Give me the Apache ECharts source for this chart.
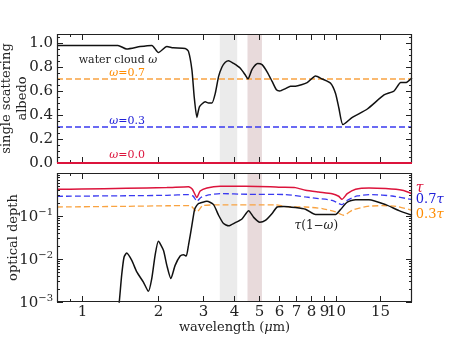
<!DOCTYPE html>
<html lang="en">
<head>
<meta charset="UTF-8">
<title>water cloud albedo and optical depth</title>
<style>html,body{margin:0;padding:0;background:#fff;}</style>
</head>
<body>
<div id="main" style="width:457px;height:343px;"></div>
<script src="https://cdn.jsdelivr.net/npm/echarts@6/dist/echarts.min.js"></script>
<script>
var chart = echarts.init(document.getElementById('main'));

var FONT = 'DejaVu Serif';
var INK = '#222';
var X_MIN = 0.8, X_MAX = 20;

// top panel: single scattering albedo of a water cloud [wavelength um, omega]
var omegaCurve = [[0.8,0.98],[1.39,0.98],[1.505,0.95],[1.70,0.97],[1.89,0.98],[2.006,0.92],[2.166,0.97],
  [2.293,0.96],[2.557,0.955],[2.635,0.93],[2.719,0.775],[2.776,0.55],[2.844,0.38],[2.913,0.47],[3.068,0.51],
  [3.161,0.50],[3.261,0.50],[3.36,0.58],[3.462,0.72],[3.571,0.80],[3.68,0.84],[3.792,0.853],[3.968,0.83],
  [4.217,0.79],[4.413,0.733],[4.522,0.70],[4.69,0.78],[4.934,0.83],[5.135,0.82],[5.375,0.76],[5.626,0.68],
  [5.85,0.61],[6.027,0.60],[6.35,0.62],[6.645,0.64],[6.954,0.64],[7.73,0.67],[8.34,0.725],[8.86,0.70],
  [9.56,0.665],[10.0,0.58],[10.31,0.456],[10.69,0.32],[11.64,0.38],[13.34,0.45],[15.52,0.567],[17.0,0.60],
  [18.06,0.67],[18.9,0.67],[19.78,0.70],[20,0.71]];
// constant albedo reference lines
var omegaRefs = [0.7, 0.3, 0.0];
var omegaRefColors = ['#f9a341', '#3a3af0', '#dc143c'];
var omegaRefText = ['#ff8c00', '#2020d8', '#dc143c'];

// bottom panel: optical depths
var tauCurve = [[0.8,0.418],[1.0,0.425],[1.5,0.44],[2.166,0.457],[2.635,0.48],[2.73,0.42],[2.844,0.268],[2.93,0.38],
  [3.115,0.45],[3.52,0.49],[4.41,0.49],[5.53,0.48],[6.06,0.466],[6.954,0.457],[7.614,0.396],[8.58,0.36],
  [9.69,0.33],[10.29,0.288],[10.6,0.245],[11.12,0.33],[11.99,0.418],[13.54,0.45],[15.76,0.434],[18.3,0.396],[20,0.33]];
var tau07Curve = [[0.8,0.287],[1.5,0.296],[2.166,0.303],[2.635,0.315],[2.75,0.29],[2.844,0.22],[2.95,0.27],[3.115,0.303],
  [3.52,0.332],[4.5,0.32],[6.35,0.315],[7.614,0.277],[8.58,0.254],[9.69,0.232],[10.6,0.184],[11.12,0.232],
  [12.18,0.292],[13.95,0.315],[16.7,0.292],[20,0.241]];
var tau03Curve = [[0.8,0.162],[1.5,0.168],[2.166,0.173],[2.68,0.174],[2.844,0.124],[3.0,0.174],[3.6,0.182],[5.8,0.182],
  [6.35,0.166],[7.614,0.162],[8.86,0.149],[10.0,0.124],[10.77,0.104],[11.64,0.136],[13.15,0.166],[15.3,0.174],
  [17.3,0.168],[20,0.136]];
var absorbCurve = [[1.39,0.0006],[1.407,0.001],[1.438,0.0042],[1.469,0.011],[1.505,0.0138],[1.576,0.0093],[1.649,0.005],
  [1.751,0.0029],[1.832,0.00177],[1.889,0.0035],[1.947,0.0122],[2.006,0.0258],[2.10,0.0159],[2.166,0.0071],
  [2.246,0.0035],[2.335,0.0071],[2.444,0.0117],[2.518,0.0126],[2.581,0.0117],[2.635,0.0207],[2.719,0.061],
  [2.776,0.13],[2.802,0.155],[2.886,0.195],[2.931,0.20],[3.115,0.22],[3.308,0.184],[3.462,0.104],[3.623,0.0666],
  [3.792,0.059],[4.03,0.07],[4.28,0.085],[4.548,0.133],[4.76,0.093],[5.027,0.072],[5.292,0.079],[5.626,0.115],
  [5.887,0.162],[6.25,0.167],[6.954,0.157],[7.614,0.143],[8.34,0.108],[9.13,0.108],[10.0,0.108],[10.46,0.141],
  [11.12,0.21],[11.99,0.24],[13.54,0.24],[15.76,0.184],[17.78,0.133],[20,0.104]];

// shaded wavelength bands
var bands = [[3.5, 4.1, '#ebebeb'], [4.5, 5.13, '#e8dadb']];

// ticks
var xMajorTicks = [1, 2, 3, 4, 5, 6, 7, 8, 9, 10, 15];
var xTickLabels = ['1', '2', '3', '4', '5', '6', '7', '8', '9', '10', '15'];
var xMinorTicks = [0.9];
var topYMajor = [0, 0.2, 0.4, 0.6, 0.8, 1.0];
var topYMinor = [0.05, 0.1, 0.15, 0.25, 0.3, 0.35, 0.45, 0.5, 0.55, 0.65, 0.7, 0.75, 0.85, 0.9, 0.95, 1.05];
var botYMajor = [0.001, 0.01, 0.1, 1];
var botYMinor = [];
[0.001, 0.01, 0.1].forEach(function (d) {
  for (var k = 2; k <= 9; k++) botYMinor.push(d * k);
});

// text annotations [text, wavelength, value, color, size, align]
var topNotes = [
  ['water cloud {i|ω}', 1.39, 0.86, INK, 11],
  ['{i|ω}=0.7', 1.51, 0.75, omegaRefText[0], 11],
  ['{i|ω}=0.3', 1.51, 0.35, omegaRefText[1], 11],
  ['{i|ω}=0.0', 1.51, 0.067, omegaRefText[2], 11]
];
var botNotes = [
  ['{i|τ}(1−{i|ω})', 8.4, 0.058, INK, 12, 'center'],
  ['{i|τ}', 20.7, 0.43, '#dc143c', 14, 'left'],
  ['0.7{i|τ}', 20.7, 0.24, '#2020d8', 13, 'left'],
  ['0.3{i|τ}', 20.7, 0.105, '#ff8c00', 13, 'left']
];

function richText(size, color) {
  return {
    n: {fontFamily: FONT, fontSize: size, color: color},
    i: {fontFamily: FONT, fontSize: size, fontStyle: 'italic', color: color}
  };
}

function bandSeries(idx, yRef) {
  return {
    type: 'custom', xAxisIndex: idx, yAxisIndex: idx, z: 1, silent: true,
    data: [[1, yRef]],
    renderItem: function (params, api) {
      var cs = params.coordSys;
      var kids = bands.map(function (b) {
        var x1 = api.coord([b[0], yRef])[0], x2 = api.coord([b[1], yRef])[0];
        return {type: 'rect', shape: {x: x1, y: cs.y, width: x2 - x1, height: cs.height}, style: {fill: b[2]}};
      });
      return {type: 'group', children: kids};
    }
  };
}

function frameSeries(idx, yMajor, yMinor, yRef, notes, withXLabels) {
  return {
    type: 'custom', xAxisIndex: idx, yAxisIndex: idx, z: 20, silent: true,
    data: [[1, yRef]],
    renderItem: function (params, api) {
      var cs = params.coordSys;
      var L = cs.x, R = cs.x + cs.width, T = cs.y, B = cs.y + cs.height;
      var kids = [];
      function seg(x1, y1, x2, y2) {
        kids.push({type: 'line', shape: {x1: x1, y1: y1, x2: x2, y2: y2}, style: {stroke: INK, lineWidth: 1}});
      }
      function xt(v, len) {
        var x = Math.round(api.coord([v, yRef])[0]) + 0.5;
        seg(x, B, x, B - len); seg(x, T, x, T + len);
        return x;
      }
      function yt(v, len) {
        var y = Math.round(api.coord([1, v])[1]) + 0.5;
        seg(L, y, L + len, y); seg(R, y, R - len, y);
      }
      xMajorTicks.forEach(function (v, i) {
        var x = xt(v, 6);
        if (withXLabels) {
          kids.push({type: 'text', x: x, y: B + 3, style: {text: xTickLabels[i], fontFamily: FONT, fontSize: 15,
            fill: INK, align: 'center', verticalAlign: 'top'}});
        }
      });
      xMinorTicks.forEach(function (v) { xt(v, 3); });
      yMajor.forEach(function (v) { yt(v, 6); });
      yMinor.forEach(function (v) { yt(v, 3); });
      kids.push({type: 'rect', shape: {x: L + 0.5, y: T + 0.5, width: R - L - 1, height: B - T - 1},
        style: {fill: 'none', stroke: INK, lineWidth: 1.2}});
      notes.forEach(function (n) {
        var p = api.coord([n[1], n[2]]);
        kids.push({type: 'text', x: p[0], y: p[1], style: {text: n[0], rich: richText(n[4], n[3]),
          fontFamily: FONT, fontSize: n[4], fill: n[3], align: n[5] || 'center', verticalAlign: 'middle'}});
      });
      return {type: 'group', children: kids};
    }
  };
}

function curve(idx, data, color, dashed, width, z) {
  return {
    type: 'line', xAxisIndex: idx, yAxisIndex: idx, data: data, showSymbol: false, smooth: 0.2,
    z: z || 5, silent: true, animation: false,
    lineStyle: {color: color, width: width || 1.5, type: dashed ? [6, 3] : 'solid'}
  };
}

var series = [bandSeries(0, 0.5), bandSeries(1, 0.01)];
omegaRefs.forEach(function (w, i) {
  var s = curve(0, [[X_MIN, w], [X_MAX, w]], omegaRefColors[i], w > 0, w > 0 ? 1.3 : 2, w > 0 ? 4 : 25);
  s.smooth = false;
  s.clip = false;
  series.push(s);
});
series.push(curve(0, omegaCurve, '#111', false, 1.5, 6));
series.push(curve(1, tau03Curve, omegaRefColors[0], true, 1.3, 4));
series.push(curve(1, tau07Curve, omegaRefColors[1], true, 1.3, 4));
series.push(curve(1, tauCurve, '#dc143c', false, 1.5, 5));
series.push(curve(1, absorbCurve, '#111', false, 1.5, 6));
series.push(frameSeries(0, topYMajor, topYMinor, 0.5, topNotes, false));
series.push(frameSeries(1, botYMajor, botYMinor, 0.01, botNotes, true));

var option = {
  animation: false,
  grid: [
    {left: 57, top: 34, width: 355, height: 129, containLabel: false, outerBoundsMode: 'none'},
    {left: 57, top: 173, width: 355, height: 129, containLabel: false, outerBoundsMode: 'none'}
  ],
  xAxis: [0, 1].map(function (i) {
    return {
      type: 'log', logBase: 10, gridIndex: i, min: X_MIN, max: X_MAX,
      axisLine: {show: false}, axisTick: {show: false}, axisLabel: {show: false}, splitLine: {show: false},
      name: i === 1 ? 'wavelength ({i|μ}m)' : '', nameLocation: 'middle', nameGap: 19, nameMoveOverlap: false,
      nameTextStyle: {fontFamily: FONT, fontSize: 13, color: INK, verticalAlign: 'top', rich: richText(13, INK)}
    };
  }),
  yAxis: [
    {
      type: 'value', gridIndex: 0, min: 0, max: 1.075, interval: 0.2,
      axisLine: {show: false}, axisTick: {show: false}, splitLine: {show: false},
      axisLabel: {fontFamily: FONT, fontSize: 15, color: INK, margin: 4, showMaxLabel: false,
        formatter: function (v) { return v.toFixed(1); }},
      name: 'single scattering\nalbedo', nameLocation: 'middle', nameRotate: 90, nameGap: 26,
      nameMoveOverlap: false,
      nameTextStyle: {fontFamily: FONT, fontSize: 13, lineHeight: 16, color: INK}
    },
    {
      type: 'log', logBase: 10, gridIndex: 1, min: 0.001, max: 1,
      axisLine: {show: false}, axisTick: {show: false}, splitLine: {show: false},
      axisLabel: {color: INK, margin: 4, showMaxLabel: false,
        formatter: function (v) {
          return '{b|10}{s|−' + Math.round(-Math.log10(v)) + '}';
        },
        rich: {
          b: {fontFamily: FONT, fontSize: 15, color: INK, lineHeight: 18, verticalAlign: 'bottom'},
          s: {fontFamily: FONT, fontSize: 10, color: INK, lineHeight: 18, verticalAlign: 'top'}
        }},
      name: 'optical depth', nameLocation: 'middle', nameRotate: 90, nameGap: 37,
      nameMoveOverlap: false,
      nameTextStyle: {fontFamily: FONT, fontSize: 13, color: INK}
    }
  ],
  series: series
};

chart.setOption(option);
</script>
</body>
</html>
